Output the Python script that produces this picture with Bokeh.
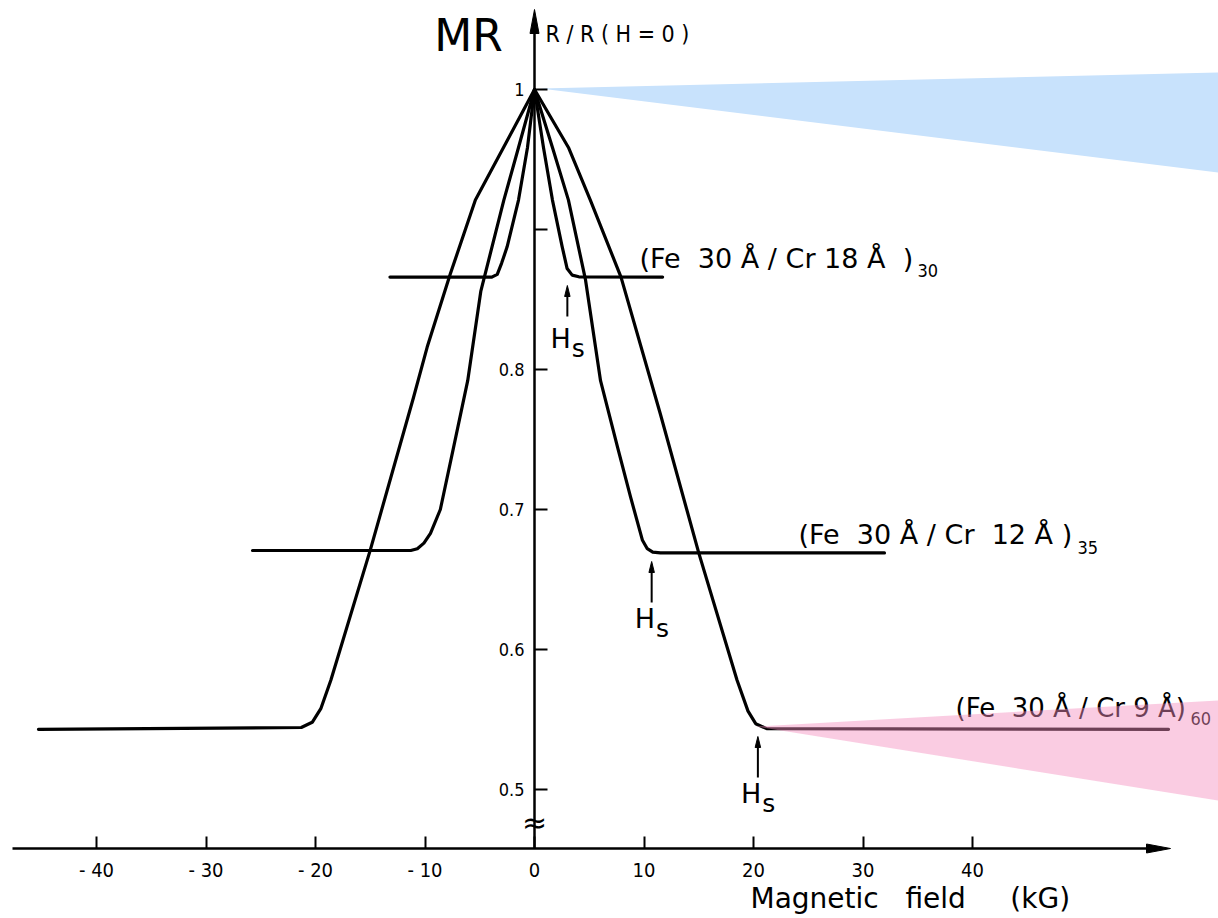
from bokeh.plotting import figure
from bokeh.models import LinearAxis, FixedTicker, Range1d
from bokeh.core.properties import value
from bokeh.embed import file_html
from bokeh.resources import INLINE

# ---------------- data ----------------
# (Fe 30 A / Cr 18 A)30
cr18_h = [-13.2, -3.9, -3.4, -3.0, -2.5, -1.46, -0.64, 0.0, 0.82, 1.64, 2.53, 2.98, 3.44, 4.05, 11.7]
cr18_r = [0.866, 0.866, 0.868, 0.876, 0.8876, 0.921, 0.9586, 1.0, 0.9586, 0.921, 0.8876, 0.8721, 0.8674, 0.8662, 0.866]
# (Fe 30 A / Cr 12 A)35
cr12_h = [-25.75, -11.3, -10.7, -10.1, -9.5, -8.6, -7.4, -6.1, -4.9, -2.8, -1.46, 0.0,
          1.64, 3.1, 4.66, 6.03, 7.6, 8.77, 9.86, 10.3, 10.8, 11.5, 31.96]
cr12_r = [0.6707, 0.6707, 0.672, 0.676, 0.683, 0.70, 0.744, 0.792, 0.856, 0.921, 0.9586, 1.0,
          0.9586, 0.921, 0.864, 0.792, 0.744, 0.709, 0.678, 0.672, 0.6695, 0.669, 0.669]
# (Fe 30 A / Cr 9 A)60
cr9_h = [-45.3, -21.3, -20.3, -19.5, -18.6, -15.0, -11.05, -9.8, -7.7, -5.4, -2.83, 0.0,
         3.1, 5.1, 7.9, 11.5, 15.0, 18.5, 19.5, 20.2, 21.2, 57.9]
cr9_r = [0.543, 0.5443, 0.548, 0.558, 0.578, 0.671, 0.78, 0.816, 0.868, 0.921, 0.9586, 1.0,
         0.9586, 0.921, 0.866, 0.768, 0.669, 0.578, 0.556, 0.547, 0.5435, 0.543]

NB = "\u00a0"
series_labels = [f"(Fe{NB}{NB}30{NB}Å{NB}/{NB}Cr{NB}18{NB}Å{NB}{NB})",
                 f"(Fe{NB}{NB}30{NB}Å{NB}/{NB}Cr{NB}{NB}12{NB}Å{NB})",
                 f"(Fe{NB}{NB}30{NB}Å{NB}/{NB}Cr{NB}9{NB}Å)"]
series_subscripts = ["30", "35", "60"]
hs_fields = [3.0, 10.7, 20.4]          # saturation fields H_s (kG)

x_ticks = [-40, -30, -20, -10, 0, 10, 20, 30, 40]
x_tick_labels = ["- 40", "- 30", "- 20", "- 10", "0", "10", "20", "30", "40"]
y_ticks = [0.5, 0.6, 0.7, 0.8, 0.9, 1.0]
y_tick_labels = ["0.5", "0.6", "0.7", "0.8", "", "1"]


# ---------------- helpers for annotation placement ----------------
def hx(px):
    return (px - 534) / 10.95


def ry(py):
    return 1 - (py - 89) / 1400.0


W, H = 1218, 918
p = figure(width=W, height=H, x_range=Range1d(hx(0), hx(W)), y_range=Range1d(ry(H), ry(0)),
           output_backend="svg", toolbar_location=None, x_axis_type=None, y_axis_type=None,
           min_border=0, outline_line_color=None, background_fill_color="white")

TICK_FONT_NAME = "DejaVu Sans Condensed"
TICK_FONT = value(TICK_FONT_NAME)
LBL_FONT = value("DejaVu Sans")
AXIS_Y = ry(848)

xa = LinearAxis(fixed_location=AXIS_Y, ticker=FixedTicker(ticks=x_ticks),
                major_label_overrides={float(t): l for t, l in zip(x_ticks, x_tick_labels)},
                axis_line_color=None, major_tick_in=12, major_tick_out=0,
                major_tick_line_width=2, major_tick_line_color="black",
                minor_tick_line_color=None, major_label_text_font=TICK_FONT_NAME,
                major_label_text_font_size="20px", major_label_text_color="black",
                major_label_standoff=9)
p.add_layout(xa, "below")

ya = LinearAxis(fixed_location=0, ticker=FixedTicker(ticks=y_ticks),
                major_label_overrides={float(t): l for t, l in zip(y_ticks, y_tick_labels)},
                axis_line_color=None, major_tick_in=13, major_tick_out=0,
                major_tick_line_width=2, major_tick_line_color="black",
                minor_tick_line_color=None, major_label_text_font=TICK_FONT_NAME,
                major_label_text_font_size="18px", major_label_text_color="black",
                major_label_standoff=10)
p.add_layout(ya, "left")

# axis lines with narrow arrow heads
p.line([hx(12), hx(1150)], [AXIS_Y, AXIS_Y], line_width=2.5, line_color="black")
p.patch([hx(1170), hx(1146), hx(1146)], [AXIS_Y, AXIS_Y + 4.5 / 1400, AXIS_Y - 4.5 / 1400],
        fill_color="black", line_color="black", line_width=1)
p.line([0, 0], [AXIS_Y, ry(30)], line_width=2.5, line_color="black")
p.patch([0, hx(538.5), hx(529.5)], [ry(9), ry(33), ry(33)],
        fill_color="black", line_color="black", line_width=1)
p.text([0], [ry(822)], text=["≈"], text_font=LBL_FONT, text_font_size="30px",
       text_align="center", text_baseline="middle", text_color="black")

# curves
for hh, rr in [(cr18_h, cr18_r), (cr12_h, cr12_r), (cr9_h, cr9_r)]:
    p.line(hh, rr, line_width=3.2, line_color="black", line_join="round", line_cap="round")

# Hs arrows and labels
hs_tail = [ry(316), ry(602), ry(777)]
hs_tip = [ry(285), ry(561), ry(736)]
hs_text_y = [ry(338), ry(618), ry(793)]
for hs, t0, t1, ty in zip(hs_fields, hs_tail, hs_tip, hs_text_y):
    p.line([hs, hs], [t0, t1 - 8 / 1400], line_width=2, line_color="black")
    p.patch([hs, hs + 0.25, hs - 0.25], [t1, t1 - 11 / 1400, t1 - 11 / 1400],
            fill_color="black", line_color="black", line_width=1)
    p.text([hs - 1.55], [ty], text=["H"], text_font=LBL_FONT, text_font_size="27px",
           text_align="left", text_baseline="middle", text_color="black")
    p.text([hs + 0.4], [ty - 10 / 1400], text=["s"], text_font=LBL_FONT, text_font_size="25px",
           text_align="left", text_baseline="middle", text_color="black")

# series labels
lab_x = [hx(639), hx(798), hx(955)]
lab_y = [ry(258), ry(534), ry(707)]
lab_size = ["27px", "27px", "26px"]
sub_x = [hx(917), hx(1077), hx(1190)]
sub_y = [ry(270), ry(547), ry(718)]
for lx, ly, fs, sx, sy, t, s in zip(lab_x, lab_y, lab_size, sub_x, sub_y, series_labels, series_subscripts):
    p.text([lx], [ly], text=[t], text_font=LBL_FONT, text_font_size=fs,
           text_align="left", text_baseline="middle", text_color="black")
    p.text([sx], [sy], text=[s], text_font=TICK_FONT, text_font_size="18px",
           text_align="left", text_baseline="middle", text_color="black")

# titles
p.text([hx(468)], [ry(35)], text=["MR"], text_font=LBL_FONT, text_font_size="44px",
       text_align="center", text_baseline="middle", text_color="black")
p.text([hx(545)], [ry(33)], text=["R / R ( H = 0 )"], text_font=TICK_FONT, text_font_size="23px",
       text_align="left", text_baseline="middle", text_color="black")
p.text([hx(750)], [ry(898)], text=[f"Magnetic{NB}{NB}{NB}field{NB}{NB}{NB}{NB}{NB}(kG)"],
       text_font=LBL_FONT, text_font_size="28px", text_align="left", text_baseline="middle",
       text_color="black")

# coloured highlight wedges
p.patch([hx(540), hx(1218), hx(1218)], [ry(88), ry(72), ry(172)],
        fill_color="#c8e2fc", line_color=None)
p.patch([hx(755), hx(1218), hx(1218)], [ry(726), ry(700), ry(800)],
        fill_color="#f38fbf", fill_alpha=0.45, line_color=None)

open("out.html", "w").write(file_html(p, INLINE))
